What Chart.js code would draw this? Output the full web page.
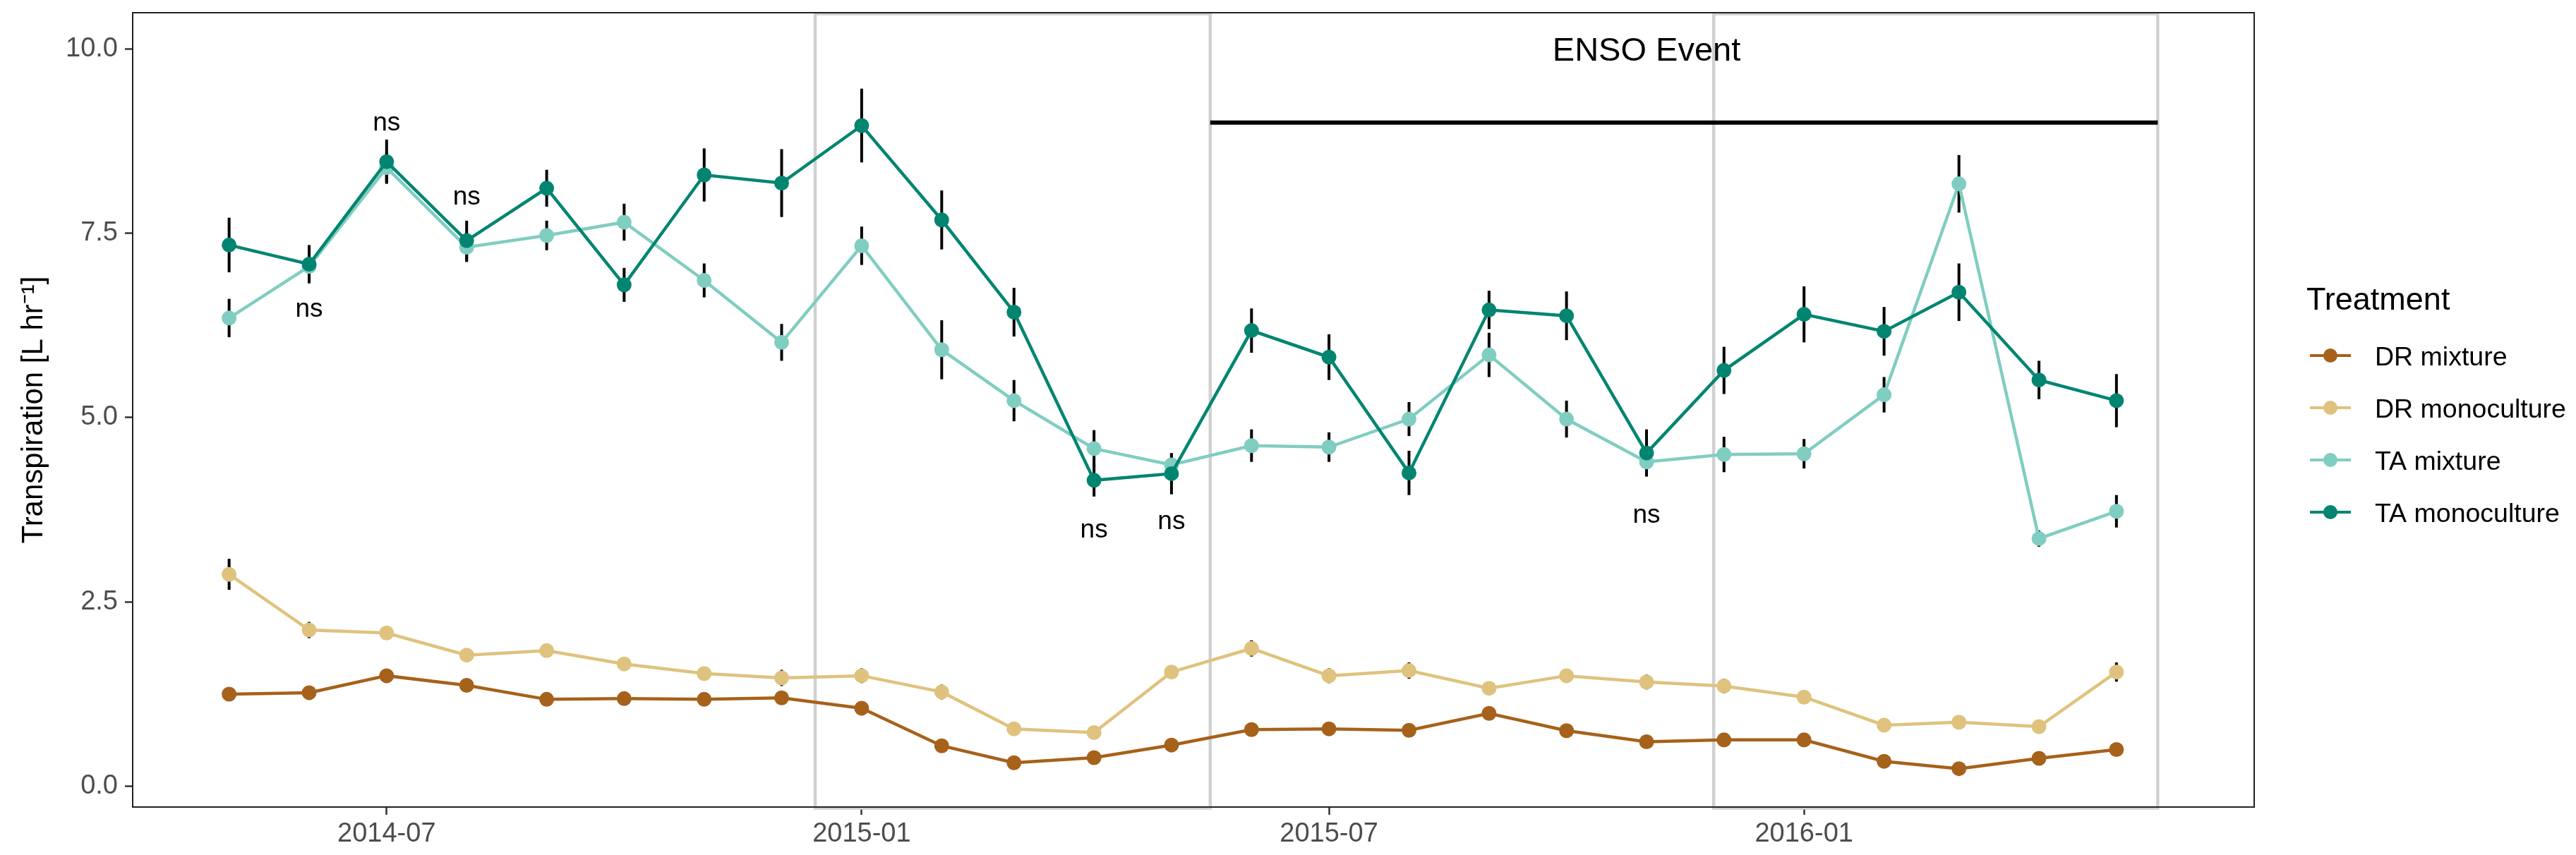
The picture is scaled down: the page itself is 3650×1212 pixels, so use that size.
<!DOCTYPE html>
<html>
<head>
<meta charset="utf-8">
<script src="https://cdn.jsdelivr.net/npm/chart.js@4.4.1/dist/chart.umd.min.js"></script>
<style>
html, body { margin: 0; padding: 0; background: #ffffff; }
canvas { display: block; }
</style>
</head>
<body>
<canvas id="chart" width="3650" height="1212"></canvas>
<script>
// ---------------- data ----------------
const months = ["2014-05-01","2014-06-01","2014-07-01","2014-08-01","2014-09-01","2014-10-01","2014-11-01","2014-12-01",
  "2015-01-01","2015-02-01","2015-03-01","2015-04-01","2015-05-01","2015-06-01","2015-07-01","2015-08-01","2015-09-01",
  "2015-10-01","2015-11-01","2015-12-01","2016-01-01","2016-02-01","2016-03-01","2016-04-01","2016-05-01"];

const seriesNames = ["DR mixture", "DR monoculture", "TA mixture", "TA monoculture"];

const drMixture     = [1.25, 1.27, 1.50, 1.37, 1.18, 1.19, 1.18, 1.20, 1.06, 0.55, 0.32, 0.39, 0.56, 0.77, 0.78, 0.76, 0.99, 0.755, 0.605, 0.63, 0.63, 0.34, 0.24, 0.38, 0.50];
const drMixtureSE   = [0.05, 0.05, 0.05, 0.05, 0.04, 0.04, 0.04, 0.04, 0.04, 0.04, 0.03, 0.03, 0.04, 0.04, 0.04, 0.04, 0.05, 0.04, 0.04, 0.04, 0.04, 0.03, 0.03, 0.03, 0.04];
const drMono        = [2.875, 2.12, 2.08, 1.78, 1.84, 1.66, 1.53, 1.47, 1.50, 1.28, 0.78, 0.73, 1.55, 1.87, 1.50, 1.57, 1.33, 1.50, 1.415, 1.36, 1.21, 0.83, 0.87, 0.81, 1.55];
const drMonoSE      = [0.21, 0.11, 0.07, 0.06, 0.07, 0.06, 0.07, 0.11, 0.10, 0.10, 0.06, 0.05, 0.08, 0.11, 0.10, 0.11, 0.07, 0.08, 0.10, 0.10, 0.07, 0.05, 0.06, 0.05, 0.13];
const taMixture     = [6.35, 7.05, 8.39, 7.31, 7.47, 7.65, 6.86, 6.02, 7.33, 5.92, 5.23, 4.58, 4.36, 4.62, 4.60, 4.98, 5.85, 4.98, 4.40, 4.50, 4.51, 5.31, 8.17, 3.36, 3.73];
const taMixtureSE   = [0.26, 0.20, 0.20, 0.20, 0.20, 0.25, 0.23, 0.25, 0.26, 0.40, 0.28, 0.25, 0.15, 0.22, 0.20, 0.23, 0.30, 0.25, 0.15, 0.24, 0.20, 0.24, 0.39, 0.11, 0.22];
const taMono        = [7.34, 7.08, 8.47, 7.40, 8.11, 6.80, 8.29, 8.18, 8.96, 7.68, 6.43, 4.15, 4.24, 6.18, 5.82, 4.25, 6.46, 6.38, 4.52, 5.64, 6.40, 6.17, 6.70, 5.51, 5.23];
const taMonoSE      = [0.37, 0.26, 0.30, 0.27, 0.25, 0.23, 0.36, 0.46, 0.50, 0.40, 0.33, 0.22, 0.28, 0.30, 0.31, 0.30, 0.26, 0.33, 0.32, 0.32, 0.38, 0.33, 0.39, 0.26, 0.36];

const xTickDates = ["2014-07-01", "2015-01-01", "2015-07-01", "2016-01-01"];
const yTicks = [0, 2.5, 5, 7.5, 10];

const seasonStarts = ["2014-12-14", "2015-11-27"];
const seasonEnds   = ["2015-05-16", "2016-05-17"];

const ensoStart = "2015-05-16";
const ensoEnd = "2016-05-17";
const ensoLevel = 9;
const ensoLabel = "ENSO Event";
const ensoLabelDate = "2015-11-01";
const ensoLabelValue = 10;

const nsLabel = "ns";
const nsDates  = ["2014-06-01", "2014-07-01", "2014-08-01", "2015-04-01", "2015-05-01", "2015-11-01"];
const nsValues = [6.46, 8.98, 7.98, 3.47, 3.58, 3.67];

const yTitle = "Transpiration [L hr\u207B\u00B9]";
const legendTitle = "Treatment";

// ---------------- helpers ----------------
const FONT = "'Liberation Sans', Arial, Helvetica, sans-serif";
const COLORS = ["#A6611A", "#DFC27D", "#80CDC1", "#018571"];
const dayNum = s => Date.UTC(+s.slice(0, 4), +s.slice(5, 7) - 1, +s.slice(8, 10)) / 86400000;
const fmtMonth = v => {
  const d = new Date(Math.round(v) * 86400000);
  return d.getUTCFullYear() + "-" + String(d.getUTCMonth() + 1).padStart(2, "0");
};

const xLo = dayNum(months[0]);
const xHi = Math.max(dayNum(months[months.length - 1]), dayNum(seasonEnds[seasonEnds.length - 1]));
const xPad = (xHi - xLo) * 0.05;

const values = [drMixture, drMono, taMixture, taMono];
const ses = [drMixtureSE, drMonoSE, taMixtureSE, taMonoSE];

const datasets = seriesNames.map((name, k) => ({
  label: name,
  data: months.map((m, i) => ({ x: dayNum(m), y: values[k][i] })),
  se: ses[k],
  borderColor: COLORS[k],
  backgroundColor: COLORS[k],
  pointBackgroundColor: COLORS[k],
  pointBorderWidth: 0,
  pointRadius: 10.5,
  pointHoverRadius: 10.5,
  borderWidth: 4.5,
  tension: 0,
  clip: false,
  order: seriesNames.length - k
}));

// ---------------- plugins ----------------
const annotations = {
  id: "annotations",
  beforeDatasetsDraw(chart) {
    const { ctx, chartArea: a, scales: { x, y } } = chart;
    ctx.save();
    // season rectangles
    ctx.strokeStyle = "#D0D0D0";
    ctx.lineWidth = 4.5;
    seasonStarts.forEach((s, i) => {
      const x0 = x.getPixelForValue(dayNum(s));
      const x1 = x.getPixelForValue(dayNum(seasonEnds[i]));
      ctx.strokeRect(x0, a.top + 1.5, x1 - x0, a.bottom - a.top);
    });
    // error bars
    ctx.strokeStyle = "#000000";
    ctx.lineWidth = 4;
    ctx.lineCap = "butt";
    chart.data.datasets.forEach(d => {
      d.data.forEach((p, i) => {
        const px = x.getPixelForValue(p.x);
        ctx.beginPath();
        ctx.moveTo(px, y.getPixelForValue(p.y - d.se[i]));
        ctx.lineTo(px, y.getPixelForValue(p.y + d.se[i]));
        ctx.stroke();
      });
    });
    ctx.restore();
  },
  afterDatasetsDraw(chart) {
    const { ctx, scales: { x, y } } = chart;
    ctx.save();
    // ENSO bar
    ctx.strokeStyle = "#000000";
    ctx.lineWidth = 6;
    ctx.lineCap = "butt";
    ctx.beginPath();
    ctx.moveTo(x.getPixelForValue(dayNum(ensoStart)), y.getPixelForValue(ensoLevel));
    ctx.lineTo(x.getPixelForValue(dayNum(ensoEnd)), y.getPixelForValue(ensoLevel));
    ctx.stroke();
    // ENSO label
    ctx.fillStyle = "#000000";
    ctx.textAlign = "center";
    ctx.textBaseline = "alphabetic";
    ctx.font = "47px " + FONT;
    ctx.fillText(ensoLabel, x.getPixelForValue(dayNum(ensoLabelDate)), y.getPixelForValue(ensoLabelValue) + 47 * 0.358);
    // ns labels
    ctx.font = "37px " + FONT;
    nsDates.forEach((d, i) => {
      ctx.fillText(nsLabel, x.getPixelForValue(dayNum(d)), y.getPixelForValue(nsValues[i]) + 37 * 0.26);
    });
    ctx.restore();
  },
  afterDraw(chart) {
    const { ctx, chartArea: a } = chart;
    ctx.save();
    // panel border
    ctx.strokeStyle = "#222222";
    ctx.lineWidth = 2;
    ctx.strokeRect(a.left, a.top, a.right - a.left, a.bottom - a.top);
    // legend
    const cy = (a.top + a.bottom) / 2;
    const lx = a.right + 74;
    ctx.fillStyle = "#000000";
    ctx.textAlign = "left";
    ctx.textBaseline = "alphabetic";
    ctx.font = "45px " + FONT;
    ctx.fillText(legendTitle, lx, cy - 142);
    ctx.font = "37.5px " + FONT;
    chart.data.datasets.forEach((d, k) => {
      const iy = cy - 77 + k * 74;
      ctx.strokeStyle = d.borderColor;
      ctx.lineWidth = 4;
      ctx.beginPath();
      ctx.moveTo(lx + 5, iy);
      ctx.lineTo(lx + 63, iy);
      ctx.stroke();
      ctx.fillStyle = d.borderColor;
      ctx.beginPath();
      ctx.arc(lx + 34, iy, 10, 0, Math.PI * 2);
      ctx.fill();
      ctx.fillStyle = "#000000";
      ctx.fillText(d.label, lx + 97, iy + 37.5 * 0.358 + 1);
    });
    ctx.restore();
  }
};

// ---------------- chart ----------------
const tickFont = { family: FONT, size: 38 };
new Chart(document.getElementById("chart"), {
  type: "line",
  data: { datasets },
  options: {
    responsive: false,
    animation: false,
    devicePixelRatio: 1,
    layout: { padding: { left: 0, top: 18, right: 456, bottom: 0 } },
    plugins: { legend: { display: false }, tooltip: { enabled: false } },
    events: [],
    scales: {
      x: {
        type: "linear",
        min: xLo - xPad,
        max: xHi + xPad,
        afterBuildTicks: s => { s.ticks = xTickDates.map(d => ({ value: dayNum(d) })); },
        afterFit: s => { s.height = 68; s.paddingLeft = 0; s.paddingRight = 0; s.paddingTop = 0; s.paddingBottom = 0; },
        ticks: { callback: v => fmtMonth(v), font: tickFont, color: "#4D4D4D", padding: 5, maxRotation: 0, autoSkip: false },
        grid: { display: true, drawOnChartArea: false, drawTicks: true, tickLength: 11, tickColor: "#333333", tickWidth: 2.5 },
        border: { display: false }
      },
      y: {
        type: "linear",
        min: -0.28,
        max: 10.49,
        afterBuildTicks: s => { s.ticks = yTicks.map(v => ({ value: v })); },
        afterFit: s => { s.width = 188; s.paddingTop = 0; s.paddingBottom = 0; s.paddingLeft = 0; s.paddingRight = 0; },
        ticks: { callback: v => Number(v).toFixed(1), font: tickFont, color: "#4D4D4D", padding: 10 },
        grid: { display: true, drawOnChartArea: false, drawTicks: true, tickLength: 11, tickColor: "#333333", tickWidth: 2.5 },
        border: { display: false },
        title: { display: true, text: yTitle, color: "#000000", font: { family: FONT, size: 42 }, padding: { top: 23, bottom: 0 } }
      }
    }
  },
  plugins: [annotations]
});
</script>
</body>
</html>
